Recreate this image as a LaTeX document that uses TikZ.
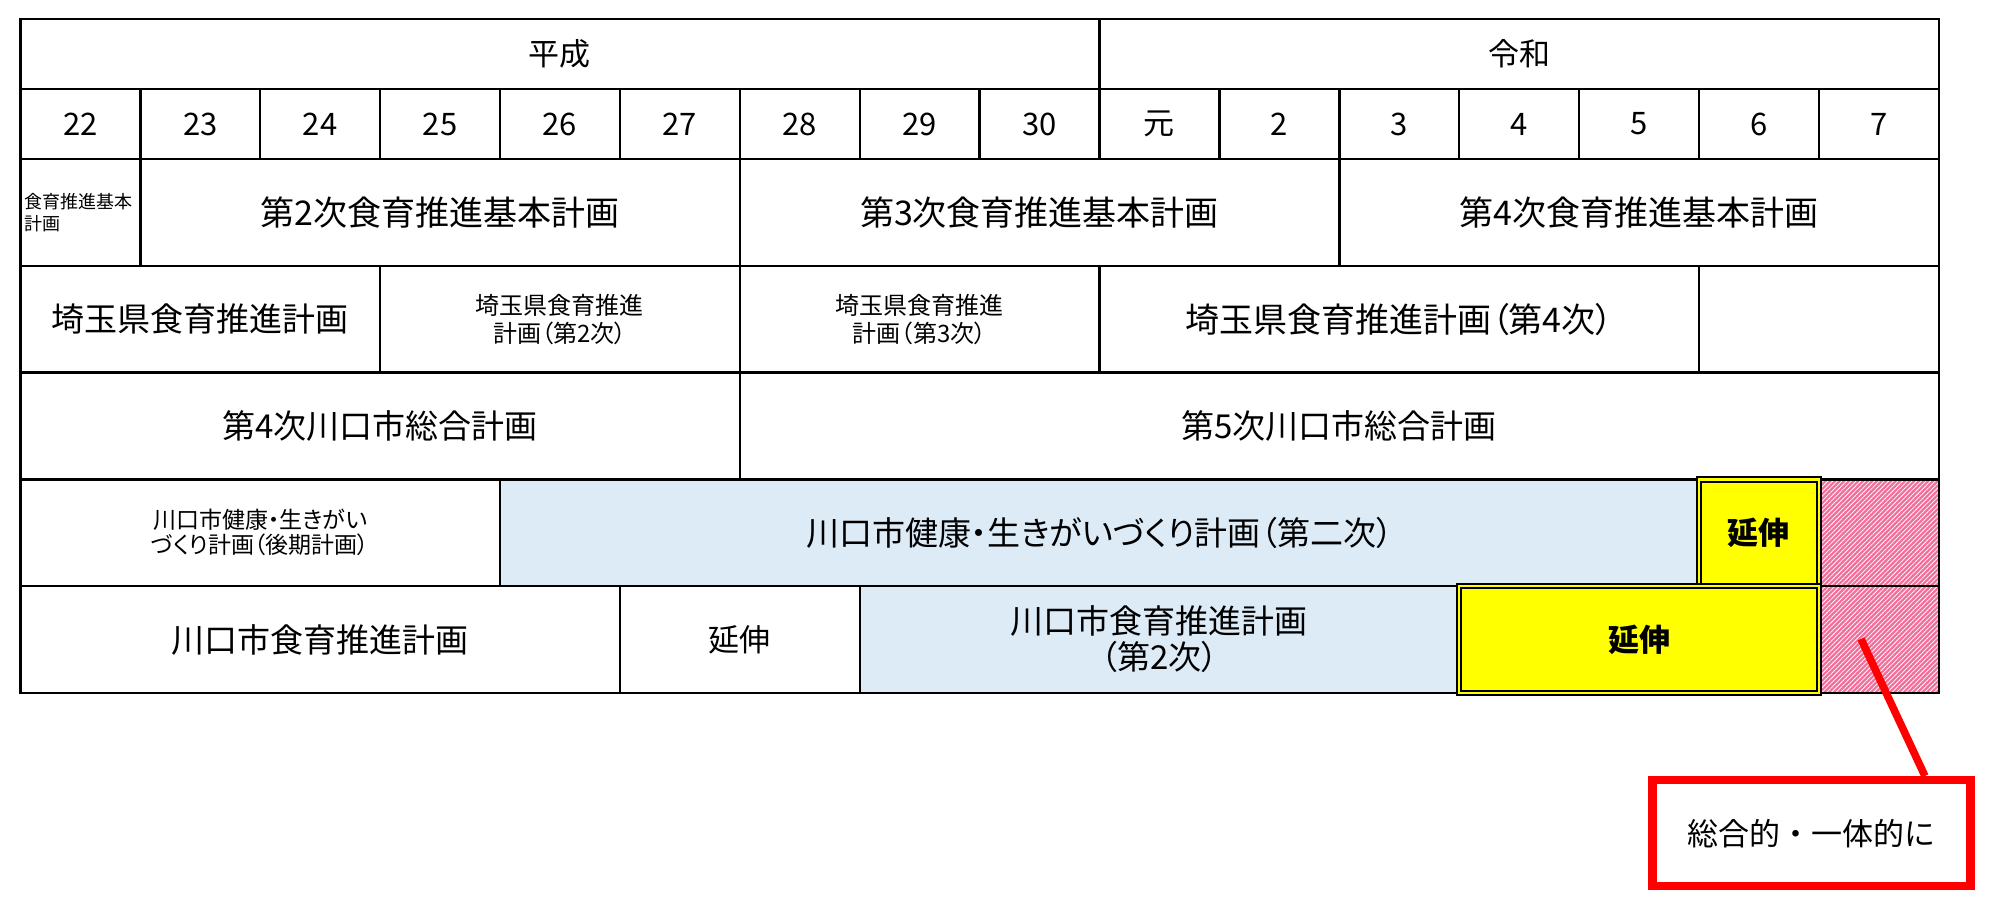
\documentclass[tikz,border=0pt]{standalone}
\usepackage{fontspec}
\setmainfont{Noto Sans CJK JP}[RawFeature={+palt}]
\newfontfamily\jpfix{Noto Sans CJK JP}
\usepackage{tikz}
\usetikzlibrary{fit,calc,patterns.meta}
\definecolor{planblue}{RGB}{221,235,247}
\definecolor{extyellow}{RGB}{255,255,0}
\definecolor{hatchpink}{RGB}{242,110,155}
\definecolor{notered}{RGB}{255,0,0}
\newcommand{\fsz}[2]{\fontsize{#1}{#2}\selectfont}

\begin{document}
\begin{tikzpicture}[x=1pt,y=-1pt]
      \tikzstyle{cell} = [draw,line width=2.4pt,inner sep=0pt]
      \tikzstyle{blue cell} = [cell,fill=planblue]
      \tikzstyle{hatch} = [cell,preaction={fill=hatchpink},pattern={Lines[angle=45,distance=3.3pt,line width=0.8pt]},pattern color=white]
      \tikzstyle{ext} = [draw,line width=2pt,double=extyellow,double distance=2.4pt,fill=extyellow,inner sep=0pt]
      \tikzstyle{note} = [draw=notered,line width=8.5pt,minimum width=318pt,minimum height=106pt,font=\jpfix\fsz{31}{31}]
      \tikzset{every label/.style={inner sep=0pt,align=center,font=\fsz{33}{33}}}
      \useasboundingbox (0,0) rectangle (2000,923);
      %
      % Grid of columns and rows.
      \foreach \i in {0,...,16} \coordinate (x\i) at ({20.4+119.9*\i},0);
      \foreach \j/\yy in {0/19,1/89.3,2/158.8,3/265.7,4/372.6,5/479.4,6/586.2,7/693}
          \coordinate (y\j) at (0,\yy);

      % Era row.
      \node[cell,fit={(x0|-y0) (x9|-y1)},label={[font=\fsz{31}{31}]center:平成}] (heisei) {};
      \node[cell,fit={(x9|-y0) (x16|-y1)},label={[font=\fsz{31}{31}]center:令和}] (reiwa) {};

      % Year row.
      \foreach \t [count=\k] in {22,23,24,25,26,27,28,29,30,元,2,3,4,5,6,7} {
          \pgfmathtruncatemacro{\i}{\k-1}
          \node[cell,fit={(x\i|-y1) (x\k|-y2)},label={[font=\fsz{31}{31}]center:\t}] (yr\k) {};
      }

      % National plans.
      \node[cell,fit={(x0|-y2) (x1|-y3)}] (nat1) {};
      \node[anchor=west,align=left,inner sep=0pt,font=\jpfix\fsz{18}{22}] (nat1txt)
          at ($(nat1.west)+(5,0)$) {食育推進基本\\計画};
      \node[cell,fit={(x1|-y2) (x6|-y3)},label={[font=\fsz{34}{34}]center:第2次食育推進基本計画}] (nat2) {};
      \node[cell,fit={(x6|-y2) (x11|-y3)},label={[font=\fsz{34}{34}]center:第3次食育推進基本計画}] (nat3) {};
      \node[cell,fit={(x11|-y2) (x16|-y3)},label={[font=\fsz{34}{34}]center:第4次食育推進基本計画}] (nat4) {};

      % Prefecture plans.
      \node[cell,fit={(x0|-y3) (x3|-y4)},label={center:埼玉県食育推進計画}] (pref1) {};
      \node[cell,fit={(x3|-y3) (x6|-y4)},label={[font=\fsz{24}{28}]center:{埼玉県食育推進\\計画（第2次）}}] (pref2) {};
      \node[cell,fit={(x6|-y3) (x9|-y4)},label={[font=\fsz{24}{28}]center:{埼玉県食育推進\\計画（第3次）}}] (pref3) {};
      \node[cell,fit={(x9|-y3) (x14|-y4)},label={[font=\fsz{34}{34}]center:埼玉県食育推進計画（第4次）}] (pref4) {};
      \node[cell,fit={(x14|-y3) (x16|-y4)}] (pref5) {};

      % City master plans.
      \node[cell,fit={(x0|-y4) (x6|-y5)},label={center:第4次川口市総合計画}] (city4) {};
      \node[cell,fit={(x6|-y4) (x16|-y5)},label={center:第5次川口市総合計画}] (city5) {};

      % Health plans.
      \node[cell,fit={(x0|-y5) (x4|-y6)},label={[font=\fsz{23}{25}]center:{川口市健康・生きがい\\づくり計画（後期計画）}}] (health1) {};
      \node[blue cell,fit={(x4|-y5) (x14|-y6)},label={center:川口市健康・生きがいづくり計画（第二次）}] (health2) {};
      \node[hatch,fit={(x15|-y5) (x16|-y6)}] (gap1) {};
      \node[ext,fit={(x14|-y5) (x15|-y6)},label={[font=\bfseries\fsz{31}{31}]center:延伸}] (ext1) {};

      % Food education plans.
      \node[cell,fit={(x0|-y6) (x5|-y7)},label={center:川口市食育推進計画}] (food1) {};
      \node[cell,fit={(x5|-y6) (x7|-y7)},label={[font=\fsz{31}{31}]center:延伸}] (food1ext) {};
      \node[blue cell,fit={(x7|-y6) (x12|-y7)},label={[font=\fsz{33}{36}]center:{川口市食育推進計画\\（第2次）}}] (food2) {};
      \node[hatch,fit={(x15|-y6) (x16|-y7)}] (gap2) {};
      \node[ext,fit={(x12|-y6) (x15|-y7)},label={[font=\bfseries\fsz{31}{31}]center:延伸}] (ext2) {};

      % Callout.
      \node[note] (note) at (1811.6,833.2) {総合的・一体的に};
      \coordinate (pin) at (1861,639);
      \draw[notered,line width=7.6pt] (pin) -- ($(note.north west)!0.847!(note.north east)$);
      %
\end{tikzpicture}
\end{document}
